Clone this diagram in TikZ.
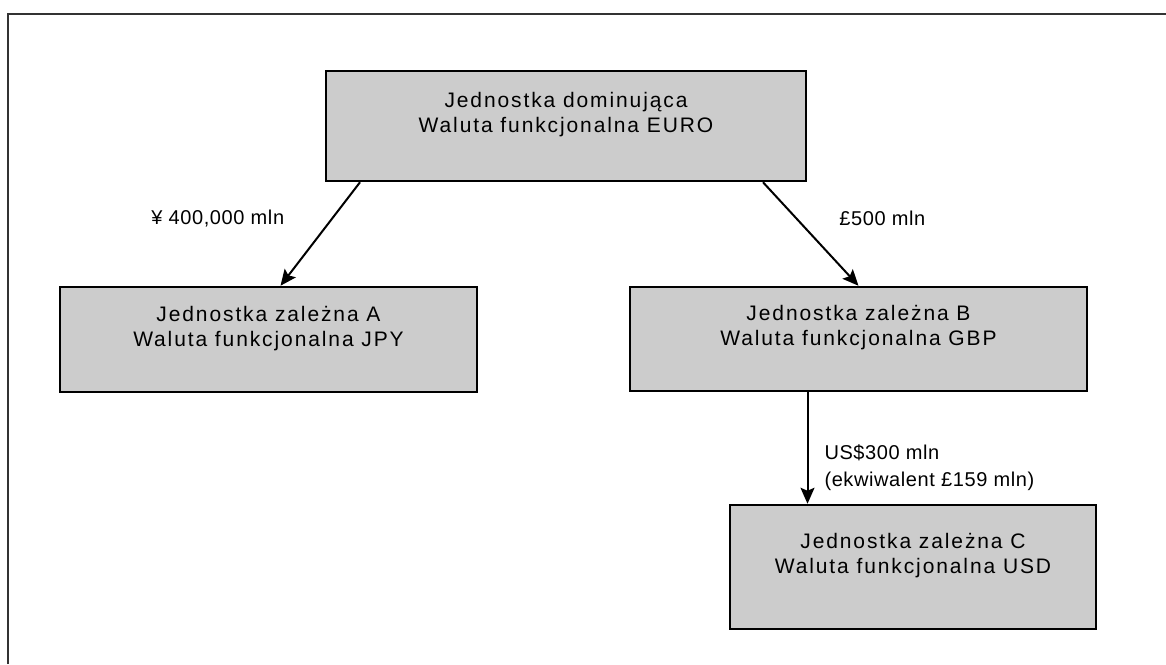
\documentclass[tikz,border=0pt]{standalone}
\usepackage{fontspec}
\setmainfont{Liberation Sans}
\newfontfamily\boxfont[LetterSpace=9]{Liberation Sans}
\newfontfamily\lblfont[LetterSpace=3]{Liberation Sans}
\usetikzlibrary{arrows.meta}
\begin{document}
\begin{tikzpicture}[x=1pt,y=-1pt,>={Stealth[length=16pt,width=14pt,inset=3pt]}, line join=miter,
		unit/.style={draw=black, line width=2.5pt, fill=black!20, align=center, text depth=27pt, inner sep=0pt,
			font=\boxfont\fontsize{21}{25}\selectfont},
		link/.style={->, line width=2pt},
		lbl/.style={inner sep=0pt, align=left, font=\lblfont\fontsize{20}{27}\selectfont}]
			\useasboundingbox (0,0) rectangle (1166,664);
			\draw[line width=2.5pt, black!80] (8,664)--(8,14)--(1166,14);
			\node[unit, minimum width=480, minimum height=110] (parent) at (566,126) {Jednostka dominująca\\Waluta funkcjonalna EURO};
			\node[unit, minimum width=417, minimum height=105] (subA) at (268.5,339.5) {Jednostka zależna A\\Waluta funkcjonalna JPY};
			\node[unit, minimum width=457, minimum height=104] (subB) at (858.5,339) {Jednostka zależna B\\Waluta funkcjonalna GBP};
			\node[unit, minimum width=366, minimum height=124] (subC) at (913,567) {Jednostka zależna C\\Waluta funkcjonalna USD};
			\draw[link] ([xshift=-206pt]parent.south)--([xshift=12pt]subA.north) node[lbl, pos=0.35, left=47pt] (lblA) {¥ 400,000 mln};
			\draw[link] ([xshift=197pt]parent.south)--(subB.north) node[lbl, pos=0.35, right=42pt] (lblB) {£500 mln};
			\draw[link] ([xshift=-51pt]subB.south)--([xshift=-51pt]subB.south |- subC.north) node[lbl, pos=0.68, right=16pt] (lblC) {US\$300 mln\\(ekwiwalent £159 mln)};
		\end{tikzpicture}
\end{document}
